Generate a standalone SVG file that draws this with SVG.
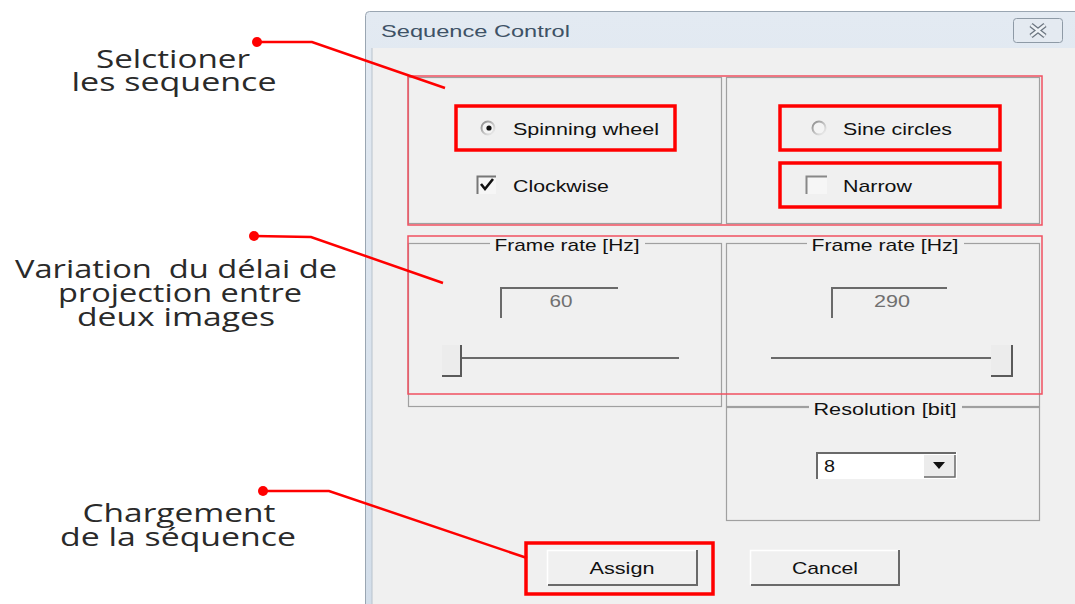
<svg xmlns="http://www.w3.org/2000/svg" width="1075" height="604" viewBox="0 0 1075 604">
<defs>
<linearGradient id="tb" x1="0" y1="0" x2="0" y2="1">
<stop offset="0" stop-color="#e3eaf2"/>
<stop offset="1" stop-color="#d3deea"/>
</linearGradient>
<linearGradient id="rad" x1="0" y1="0" x2="1" y2="1">
<stop offset="0" stop-color="#8a8a8a"/>
<stop offset="1" stop-color="#f4f4f4"/>
</linearGradient>
</defs>
<style>
.ann{font-family:"Open Sans","Lato",sans-serif;font-size:25px;fill:#2a2a2a;text-anchor:middle}
.ui{font-family:"Liberation Sans","DejaVu Sans",sans-serif;font-size:17px;fill:#111}
.dis{font-family:"Liberation Sans","DejaVu Sans",sans-serif;font-size:17px;fill:#707070;text-anchor:middle}
.grp{fill:none;stroke:#a0a0a0;stroke-width:1.2}
.hl{fill:none;stroke:#f00;stroke-width:3.5}
.thin{fill:none;stroke:#f05060;stroke-width:1.5}
.lead{fill:none;stroke:#f00;stroke-width:2.5}
.dot{fill:#f00}
.lbl{fill:#f0f0f0}
</style>
<rect width="1075" height="604" fill="#ffffff"/>
<g id="window">
<rect x="365.5" y="11.5" width="720" height="600" rx="4" fill="url(#tb)" stroke="#9aa6b2"/>
<rect x="372" y="48" width="710" height="556" fill="#f0f0f0"/>
<line x1="372" y1="48" x2="372" y2="604" stroke="#b8c2cc"/>
<text x="381" y="37" font-family="Liberation Sans, DejaVu Sans, sans-serif" font-size="17" fill="#3e5266" textLength="189" lengthAdjust="spacingAndGlyphs">Sequence Control</text>
<g id="close-btn">
<rect x="1013.5" y="18.5" width="49" height="24" rx="3" fill="#e4eaf1" stroke="#8e9aa6"/>
<path d="M1031 25 L1045 36 M1045 25 L1031 36" stroke="#6b7580" stroke-width="5"/>
<path d="M1031 25 L1045 36 M1045 25 L1031 36" stroke="#eef2f6" stroke-width="2.5"/>
</g>
</g>
<g id="groups">
<rect class="grp" x="408.5" y="77.5" width="313" height="146"/>
<rect class="grp" x="726.5" y="77.5" width="313" height="146"/>
<rect class="grp" x="408.5" y="243.5" width="313" height="163"/>
<rect class="grp" x="726.5" y="243.5" width="313" height="163"/>
<rect class="grp" x="726.5" y="407.5" width="313" height="113"/>
<rect class="lbl" x="490" y="233" width="155" height="20"/>
<text class="ui" x="567" y="251" text-anchor="middle" textLength="145" lengthAdjust="spacingAndGlyphs">Frame rate [Hz]</text>
<rect class="lbl" x="807" y="233" width="157" height="20"/>
<text class="ui" x="885" y="251" text-anchor="middle" textLength="147" lengthAdjust="spacingAndGlyphs">Frame rate [Hz]</text>
<rect class="lbl" x="809" y="397" width="153" height="20"/>
<text class="ui" x="885" y="415" text-anchor="middle" textLength="143" lengthAdjust="spacingAndGlyphs">Resolution [bit]</text>
</g>
<g id="spinning-wheel">
<circle cx="488" cy="128" r="6.5" fill="#f4f4f4" stroke="url(#rad)" stroke-width="2"/>
<circle cx="489" cy="128" r="2.6" fill="#111"/>
<text class="ui" x="513" y="135" textLength="146" lengthAdjust="spacingAndGlyphs">Spinning wheel</text>
</g>
<g id="clockwise">
<rect x="477" y="176" width="19" height="18" fill="#f6f6f6"/>
<path d="M477.5 194 V176.5 H496" fill="none" stroke="#777" stroke-width="2"/>
<path d="M481 184 L485 189 L493 179" fill="none" stroke="#111" stroke-width="2.6"/>
<text class="ui" x="513" y="192" textLength="96" lengthAdjust="spacingAndGlyphs">Clockwise</text>
</g>
<g id="sine-circles">
<circle cx="819" cy="128" r="6.5" fill="#f4f4f4" stroke="url(#rad)" stroke-width="2"/>
<text class="ui" x="843" y="135" textLength="109" lengthAdjust="spacingAndGlyphs">Sine circles</text>
</g>
<g id="narrow">
<rect x="806" y="176" width="21" height="18" fill="#f6f6f6"/>
<path d="M806.5 194 V176.5 H827" fill="none" stroke="#888" stroke-width="2"/>
<text class="ui" x="843" y="192" textLength="69" lengthAdjust="spacingAndGlyphs">Narrow</text>
</g>
<g id="edit-60">
<rect x="500" y="287" width="120" height="31" fill="#f0f0f0"/>
<path d="M501 318 V288 H618" fill="none" stroke="#6a6a6a" stroke-width="2"/>
<text class="dis" x="561" y="307" textLength="23" lengthAdjust="spacingAndGlyphs">60</text>
</g>
<g id="edit-290">
<rect x="831" y="287" width="117" height="31" fill="#f0f0f0"/>
<path d="M832 318 V288 H947" fill="none" stroke="#6a6a6a" stroke-width="2"/>
<text class="dis" x="892" y="307" textLength="36" lengthAdjust="spacingAndGlyphs">290</text>
</g>
<g id="slider-left">
<line x1="461" y1="358" x2="679" y2="358" stroke="#6a6a6a" stroke-width="2"/>
<rect x="442" y="345" width="20" height="31" fill="#ececec"/>
<path d="M442 376 H461 V345" fill="none" stroke="#5a5a5a" stroke-width="2"/>
</g>
<g id="slider-right">
<line x1="771" y1="358" x2="991" y2="358" stroke="#6a6a6a" stroke-width="2"/>
<rect x="991" y="345" width="21" height="31" fill="#ececec"/>
<path d="M991 376 H1012 V345" fill="none" stroke="#5a5a5a" stroke-width="2"/>
</g>
<g id="combo">
<rect x="816" y="452" width="141" height="27" fill="#ffffff"/>
<path d="M817 479 V453 H956" fill="none" stroke="#6a6a6a" stroke-width="2"/>
<rect x="924" y="455" width="31" height="22" fill="#ececec"/>
<path d="M924 477 H955 V455" fill="none" stroke="#6a6a6a" stroke-width="1.5"/>
<path d="M933 462 L945 462 L939 469 Z" fill="#111"/>
<text class="ui" x="824" y="472" textLength="11" lengthAdjust="spacingAndGlyphs">8</text>
</g>
<g id="assign">
<rect x="547" y="550" width="150" height="35" fill="#f0f0f0"/>
<path d="M547.5 585 V550.5 H697" fill="none" stroke="#ffffff" stroke-width="1.5"/>
<path d="M548 585 H697 V550" fill="none" stroke="#6a6a6a" stroke-width="2"/>
<text class="ui" x="622" y="574" text-anchor="middle" textLength="65" lengthAdjust="spacingAndGlyphs">Assign</text>
</g>
<g id="cancel">
<rect x="750" y="550" width="150" height="35" fill="#f0f0f0"/>
<path d="M750.5 585 V550.5 H900" fill="none" stroke="#ffffff" stroke-width="1.5"/>
<path d="M751 585 H899 V550" fill="none" stroke="#6a6a6a" stroke-width="2"/>
<text class="ui" x="825" y="574" text-anchor="middle" textLength="66" lengthAdjust="spacingAndGlyphs">Cancel</text>
</g>
<g id="highlights">
<rect class="thin" x="408" y="76" width="634" height="149"/>
<rect class="thin" x="408" y="236" width="634" height="158"/>
<rect class="hl" x="456" y="106" width="219" height="44"/>
<rect class="hl" x="780" y="106" width="220" height="44"/>
<rect class="hl" x="780" y="163" width="220" height="44"/>
<rect class="hl" x="526" y="543" width="187" height="51"/>
</g>
<g id="connectors">
<circle class="dot" cx="257" cy="42" r="5"/>
<polyline class="lead" points="257,42 312,42 445,88"/>
<circle class="dot" cx="254" cy="236" r="5"/>
<polyline class="lead" points="254,236 311,237 443,283"/>
<circle class="dot" cx="263" cy="491" r="5"/>
<polyline class="lead" points="263,491 329,491 527,558"/>
</g>
<g id="annotations">
<text class="ann" x="173" y="68" textLength="154" lengthAdjust="spacingAndGlyphs">Selctioner</text>
<text class="ann" x="174" y="91" textLength="205" lengthAdjust="spacingAndGlyphs">les sequence</text>
<text class="ann" x="176" y="278" xml:space="preserve" textLength="322" lengthAdjust="spacingAndGlyphs">Variation  du délai de</text>
<text class="ann" x="180" y="302" textLength="244" lengthAdjust="spacingAndGlyphs">projection entre</text>
<text class="ann" x="176" y="326" textLength="198" lengthAdjust="spacingAndGlyphs">deux images</text>
<text class="ann" x="179" y="522" textLength="193" lengthAdjust="spacingAndGlyphs">Chargement</text>
<text class="ann" x="178" y="546" textLength="236" lengthAdjust="spacingAndGlyphs">de la séquence</text>
</g>
</svg>
